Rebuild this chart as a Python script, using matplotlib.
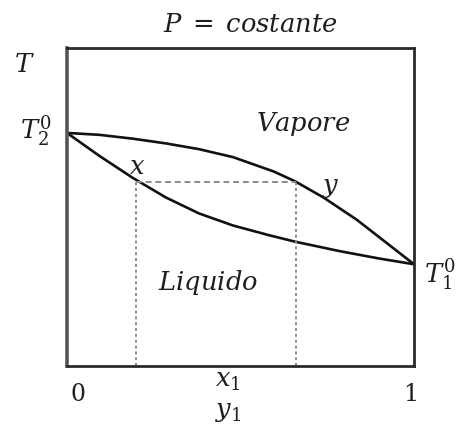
import matplotlib.pyplot as plt

plt.rcParams['mathtext.fontset'] = 'dejavuserif'
plt.rcParams['font.family'] = 'DejaVu Serif'

# curva del vapore (rugiada): composizione e T normalizzata
x_vapore = [0.0, 0.093, 0.189, 0.285, 0.380, 0.478, 0.595, 0.657, 0.739, 0.835, 1.0]
t_vapore = [0.733, 0.727, 0.715, 0.700, 0.682, 0.657, 0.612, 0.581, 0.530, 0.460, 0.320]
# curva del liquido (bolla)
x_liquido = [0.0, 0.093, 0.189, 0.285, 0.380, 0.478, 0.580, 0.657, 0.787, 0.900, 1.0]
t_liquido = [0.733, 0.661, 0.592, 0.530, 0.480, 0.442, 0.412, 0.391, 0.361, 0.338, 0.320]

# retta di collegamento
x_liq = 0.20
y_vap = 0.66
t_tie = 0.58

fig = plt.figure(figsize=(4.63, 4.26), dpi=100)
ax = fig.add_axes([0.1447, 0.1408, 0.7495, 0.7465])
ax.set_xlim(0, 1)
ax.set_ylim(0, 1)
ax.set_xticks([])
ax.set_yticks([])
for s in ax.spines.values():
    s.set_linewidth(2.0)
    s.set_color('#2a2a2a')
ax.spines['left'].set_color('#555555')
ax.spines['left'].set_linewidth(2.6)

ax.plot(x_vapore, t_vapore, color='#111111', lw=1.9, solid_joinstyle='round')
ax.plot(x_liquido, t_liquido, color='#111111', lw=1.9, solid_joinstyle='round')

ax.plot([x_liq, y_vap], [t_tie, t_tie], color='#8a8a8a', lw=1.4, ls=(0, (3, 2)))
ax.plot([x_liq, x_liq], [0, t_tie], color='#8a8a8a', lw=1.4, ls=(0, (1.5, 1.5)))
ax.plot([y_vap, y_vap], [0, t_tie], color='#8a8a8a', lw=1.4, ls=(0, (1.5, 1.5)))

fs = 18.5
kw = dict(clip_on=False, ha='center', va='center', color='#1e1e1e')
ax.text(0.527, 1.075, r'$P\;=\;costante$', fontsize=fs, **kw)
ax.text(-0.124, 0.947, r'$T$', fontsize=fs, **kw)
ax.text(-0.09, 0.738, r'$T_2^0$', fontsize=fs, **kw)
ax.text(1.075, 0.29, r'$T_1^0$', fontsize=fs, **kw)
ax.text(0.68, 0.761, r'$Vapore$', fontsize=fs, **kw)
ax.text(0.406, 0.264, r'$Liquido$', fontsize=fs, **kw)
ax.text(0.202, 0.628, r'$x$', fontsize=fs, **kw)
ax.text(0.761, 0.562, r'$y$', fontsize=fs, **kw)
ax.text(0.032, -0.091, '0', fontsize=17, **kw)
ax.text(0.991, -0.091, '1', fontsize=17, **kw)
ax.text(0.464, -0.047, r'$x_1$', fontsize=fs, **kw)
ax.text(0.464, -0.142, r'$y_1$', fontsize=fs, **kw)

fig.savefig('out.png', dpi=100)
